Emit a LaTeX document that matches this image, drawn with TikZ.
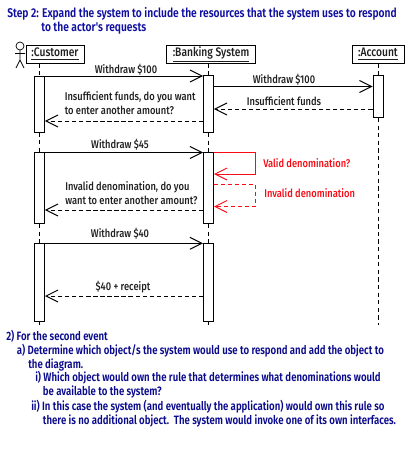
\documentclass[tikz,border=0pt]{standalone}
\usepackage{fontspec}
\setmainfont{Fira Sans}
\newfontfamily\titlefont[FakeStretch=.81]{Fira Sans SemiBold}
\newfontfamily\msgfont[FakeStretch=.83]{Fira Sans Medium}
\newfontfamily\notefont[FakeStretch=.795]{Fira Sans SemiBold}
\usetikzlibrary{arrows.meta}
\definecolor{seqTitle}{RGB}{16,16,160}
\definecolor{seqText}{RGB}{32,32,32}
\definecolor{seqNote}{RGB}{10,10,140}
\definecolor{seqRed}{RGB}{250,10,20}

\begin{document}
\begin{tikzpicture}[x=.025cm,y=-.025cm,
      title/.style={font=\fontsize{9.0}{10}\selectfont\titlefont,
        text=seqTitle, anchor=base west, inner sep=0},
      note/.style={font=\fontsize{8.6}{10}\selectfont\notefont,
        text=seqNote, anchor=base west, inner sep=0},
      msg/.style={font=\fontsize{8.0}{9}\selectfont\msgfont,
        text=seqText, anchor=base, inner sep=0},
      msgleft/.style={msg, anchor=base west},
      redmsg/.style={msg, anchor=base west, text=seqRed},
      object/.style={draw, line width=.7pt, fill=white, inner sep=0,
        font=\fontsize{8.8}{10}\selectfont\msgfont, text=seqText,
        minimum height=18*.025cm},
      bar/.style={draw, line width=.7pt, fill=white, inner sep=0,
        minimum width=10*.025cm, minimum height=#1*.025cm},
      lifeline/.style={line width=.7pt, dash pattern=on 3pt off 2.4pt},
      call/.style={line width=.7pt, -{Straight Barb[length=.3cm,width=.3cm]}},
      reply/.style={call, dash pattern=on 3pt off 2pt},
      redcall/.style={call, draw=seqRed},
      redreply/.style={reply, draw=seqRed}]
      \useasboundingbox (0,0) rectangle (420,460);
      \fill[white] (0,0) rectangle (420,460);

      \node[title] (stepA) at (7,17.5) {Step 2: Expand the system to include the resources that the system uses to respond};
      \node[title] (stepB) at (41,31.7) {to the actor's requests};

      \node[object, minimum width=58*.025cm] (customer) at (55,54) {\underline{:Customer}};
      \node[object, minimum width=89*.025cm] (banking) at (211,54) {\underline{:Banking System}};
      \node[object, minimum width=52*.025cm] (account) at (378,54) {\underline{:Account}};

      \draw[line width=.5pt] (20,46) circle (4);
      \draw[line width=.5pt] (20,50) -- (20,60) (15,53.5) -- (25,53.5)
        (16,68) -- (20,60) -- (24,68);

      \node[bar=56] (custFirst) at (39.5,104) {};
      \node[bar=57.5] (bankFirst) at (208.5,103.75) {};
      \node[bar=42] (acctFirst) at (378,96.5) {};
      \node[bar=71] (custSecond) at (39.5,188) {};
      \node[bar=71] (bankSecond) at (208.5,188) {};
      \node[bar=78] (custThird) at (39.5,282.3) {};
      \node[bar=78] (bankThird) at (208.5,282.3) {};
      \coordinate (custEnd) at (39.5,325);
      \coordinate (bankEnd) at (208.5,325);
      \coordinate (acctEnd) at (378,325);

      \draw[lifeline] (customer.south -| custFirst) -- (custFirst.north);
      \draw[lifeline] (custFirst.south) -- (custSecond.north);
      \draw[lifeline] (custSecond.south) -- (custThird.north);
      \draw[lifeline] (custThird.south) -- (custEnd);
      \draw[lifeline] (banking.south -| bankFirst) -- (bankFirst.north);
      \draw[lifeline] (bankFirst.south) -- (bankSecond.north);
      \draw[lifeline] (bankSecond.south) -- (bankThird.north);
      \draw[lifeline] (bankThird.south) -- (bankEnd);
      \draw[lifeline] (account.south) -- (acctFirst.north);
      \draw[lifeline] (acctFirst.south) -- (acctEnd);

      \draw[call] (custFirst.east |- 0,76) -- (bankFirst.west |- 0,76);
      \node[msg] (msgWithdrawA) at (126,73) {Withdraw \$100};
      \draw[call] (bankFirst.east |- 0,86.5) -- (acctFirst.west |- 0,86.5);
      \node[msg] (msgWithdrawB) at (284,83) {Withdraw \$100};
      \draw[reply] (acctFirst.west |- 0,109) -- (bankFirst.east |- 0,109);
      \node[msg] (msgFunds) at (284,105.5) {Insufficient funds};
      \draw[reply] (bankFirst.west |- 0,121) -- (custFirst.east |- 0,121);
      \node[msgleft] (msgFundsA) at (64.5,100.5) {Insufficient funds, do you want};
      \node[msgleft] (msgFundsB) at (64.5,114.5) {to enter another amount?};

      \draw[call] (custSecond.east |- 0,152.5) -- (bankSecond.west |- 0,152.5);
      \node[msg] (msgWithdrawC) at (120,148) {Withdraw \$45};
      \draw[redcall] (bankSecond.east |- 0,152.5) -- (255.5,152.5) -- (255.5,174)
        -- (bankSecond.east |- 0,174);
      \node[redmsg] (msgValid) at (263,167.5) {Valid denomination?};
      \draw[redreply] (bankSecond.east |- 0,184) -- (255.5,184) -- (255.5,206.5)
        -- (bankSecond.east |- 0,206.5);
      \node[redmsg] (msgInvalid) at (264,197.5) {Invalid denomination};
      \draw[reply] (bankSecond.west |- 0,210) -- (custSecond.east |- 0,210);
      \node[msgleft] (msgDenomA) at (65,190) {Invalid denomination, do you};
      \node[msgleft] (msgDenomB) at (65,204) {want to enter another amount?};

      \draw[call] (custThird.east |- 0,243.3) -- (bankThird.west |- 0,243.3);
      \node[msg] (msgWithdrawD) at (120,237) {Withdraw \$40};
      \draw[reply] (bankThird.west |- 0,296) -- (custThird.east |- 0,296);
      \node[msg] (msgReceipt) at (123,290) {\$40 + receipt};

      \node[note] (noteA) at (6,340) {2) For the second event};
      \node[note] (noteB) at (16.7,354) {a) Determine which object/s the system would use to respond and add the object to};
      \node[note] (noteC) at (28,368) {the diagram.};
      \node[note] (noteD) at (35,381.7) {i) Which object would own the rule that determines what denominations would};
      \node[note] (noteE) at (42.7,395.7) {be available to the system?};
      \node[note] (noteF) at (31,410) {ii) In this case the system (and eventually the application) would own this rule so};
      \node[note] (noteG) at (42.7,424) {there is no additional object.\ \ The system would invoke one of its own interfaces.};
    \end{tikzpicture}
\end{document}
